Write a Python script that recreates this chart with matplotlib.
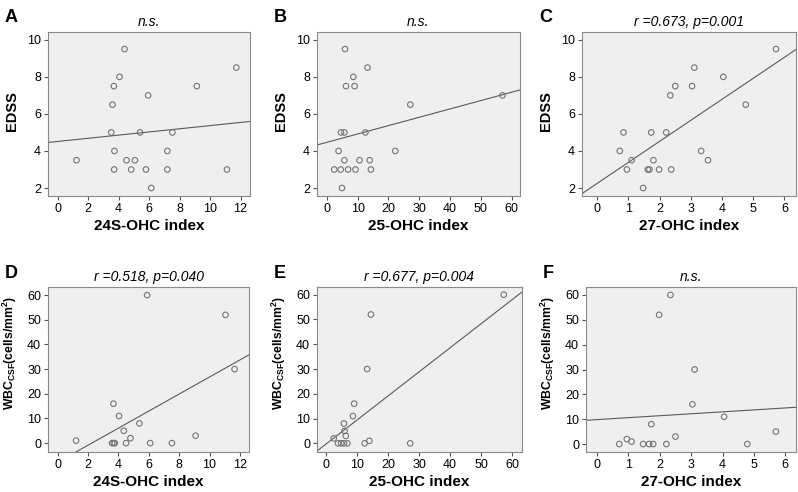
import numpy as np
import matplotlib
matplotlib.use("Agg")
import matplotlib.pyplot as plt

plt.rcParams['font.family'] = ['Liberation Sans', 'DejaVu Sans']
plt.rcParams['mathtext.fontset'] = 'custom'
plt.rcParams['mathtext.rm'] = 'Liberation Sans'
plt.rcParams['mathtext.bf'] = 'Liberation Sans:bold'

# EDSS cohort (n=21)
oh24_edss = [1.24, 4.39, 11.72, 4.06, 3.69, 9.13, 3.60, 5.94, 3.52, 5.41, 7.53,
             3.73, 7.20, 4.52, 5.07, 3.71, 4.83, 5.79, 7.20, 11.11, 6.14]
oh25_edss = [10.6, 5.9, 13.2, 8.6, 6.2, 9.0, 27.1, 4.9, 12.5, 5.7, 5.7,
             3.8, 22.2, 4.6, 13.9, 2.4, 4.5, 6.9, 9.3, 14.3, 57.0]
edss_a = [3.5, 9.5, 8.5, 8, 7.5, 7.5, 6.5, 7, 5, 5, 5, 4, 4, 3.5, 3.5, 3, 3, 3, 3, 3, 2]
edss_b = [3.5, 9.5, 8.5, 8, 7.5, 7.5, 6.5, 2, 5, 5, 3.5, 4, 4, 5, 3.5, 3, 3, 3, 3, 3, 7]
oh27_edss = [5.73, 3.11, 4.04, 2.50, 3.04, 2.34, 4.76, 0.84, 1.73, 2.21, 0.72,
             3.33, 1.10, 1.80, 3.55, 0.95, 1.62, 1.67, 1.98, 2.37, 1.47]
edss_c = [9.5, 8.5, 8, 7.5, 7.5, 7, 6.5, 5, 5, 5, 4, 4, 3.5, 3.5, 3.5, 3, 3, 3, 3, 3, 2]

# WBC CSF cohort (n=16)
oh24_wbc = [1.21, 5.89, 11.05, 11.65, 3.67, 4.04, 5.38, 4.35, 4.79, 9.08,
            3.58, 3.69, 3.76, 4.50, 6.09, 7.52]
wbc_d = [1, 60, 52, 30, 16, 11, 8, 5, 2, 3, 0, 0, 0, 0, 0, 0]
oh25_wbc = [2.4, 3.8, 4.8, 5.7, 6.8, 12.4, 13.9, 27.1, 5.7, 5.9, 6.3, 8.6,
            9.0, 13.2, 14.4, 57.3]
wbc_e = [2, 0, 0, 0, 0, 0, 1, 0, 8, 5, 3, 11, 16, 30, 52, 60]
oh27_wbc = [0.71, 0.95, 1.10, 1.47, 1.66, 1.79, 1.73, 1.98, 2.34, 2.21, 2.50,
            3.04, 3.11, 4.05, 4.79, 5.70]
wbc_f = [0, 2, 1, 0, 0, 0, 8, 52, 60, 0, 3, 16, 30, 11, 0, 5]

titles = ["n.s.", "n.s.", "r =0.673, p=0.001",
          "r =0.518, p=0.040", "r =0.677, p=0.004", "n.s."]
letters = ["A", "B", "C", "D", "E", "F"]
xlabels = ["24S-OHC index", "25-OHC index", "27-OHC index"] * 2
wbc_lab = r"WBC$_{\mathbf{CSF}}$(cells/mm$^{\mathbf{2}}$)"
ylabels = ["EDSS"] * 3 + [wbc_lab] * 3
ysizes = [10.5] * 3 + [8.8] * 3
ylab_pos = [0.52] * 3 + [0.6] * 3

xs = [oh24_edss, oh25_edss, oh27_edss, oh24_wbc, oh25_wbc, oh27_wbc]
ys = [edss_a, edss_b, edss_c, wbc_d, wbc_e, wbc_f]

W, H = 798, 492
boxes = [(48, 32, 250, 196), (317, 32, 520, 196), (582, 32, 796, 196),
         (48, 287, 249, 452), (317, 287, 522, 452), (586, 287, 796, 452)]
xlims = [(-0.63, 12.62), (-3.2, 62.7), (-0.49, 6.37),
         (-0.64, 12.6), (-3.0, 63.2), (-0.35, 6.34)]
ylims = [(1.57, 10.42), (1.57, 10.42), (1.57, 10.42),
         (-3.6, 63.3), (-3.5, 63.1), (-3.2, 63.2)]
xticks = [range(0, 13, 2), range(0, 61, 10), range(0, 7)] * 2
yticks = [range(2, 11, 2)] * 3 + [range(0, 61, 10)] * 3

fig = plt.figure(figsize=(W / 100, H / 100), dpi=100)
for i in range(6):
    l, t, r, b = boxes[i]
    ax = fig.add_axes([l / W, 1 - b / H, (r - l) / W, (b - t) / H])
    ax.set_facecolor("#efefef")
    x = np.array(xs[i])
    y = np.array(ys[i])
    ax.scatter(x, y, s=16, facecolors="none", edgecolors="#747474", linewidths=0.8, zorder=3)
    k, c = np.polyfit(x, y, 1)
    xx = np.array(xlims[i])
    ax.plot(xx, k * xx + c, color="#5a5a5a", lw=0.8, zorder=2)
    ax.set_xlim(xlims[i])
    ax.set_ylim(ylims[i])
    ax.set_xticks(list(xticks[i]))
    ax.set_yticks(list(yticks[i]))
    ax.tick_params(labelsize=9, length=3, color="#555555", pad=2)
    for s in ax.spines.values():
        s.set_color("#8a8a8a")
    ax.set_xlabel(xlabels[i], fontsize=11, fontweight="bold", labelpad=3)
    ax.set_ylabel(ylabels[i], fontsize=ysizes[i], fontweight="bold")
    ax.yaxis.set_label_coords(-29 / (r - l), ylab_pos[i])
    ax.set_title(titles[i], fontsize=10, style="italic", pad=4)
    fig.text((l - 43) / W, 1 - (t - 14) / H, letters[i], fontsize=13,
             fontweight="bold", va="center", ha="left")

fig.savefig("out.png", dpi=100)
